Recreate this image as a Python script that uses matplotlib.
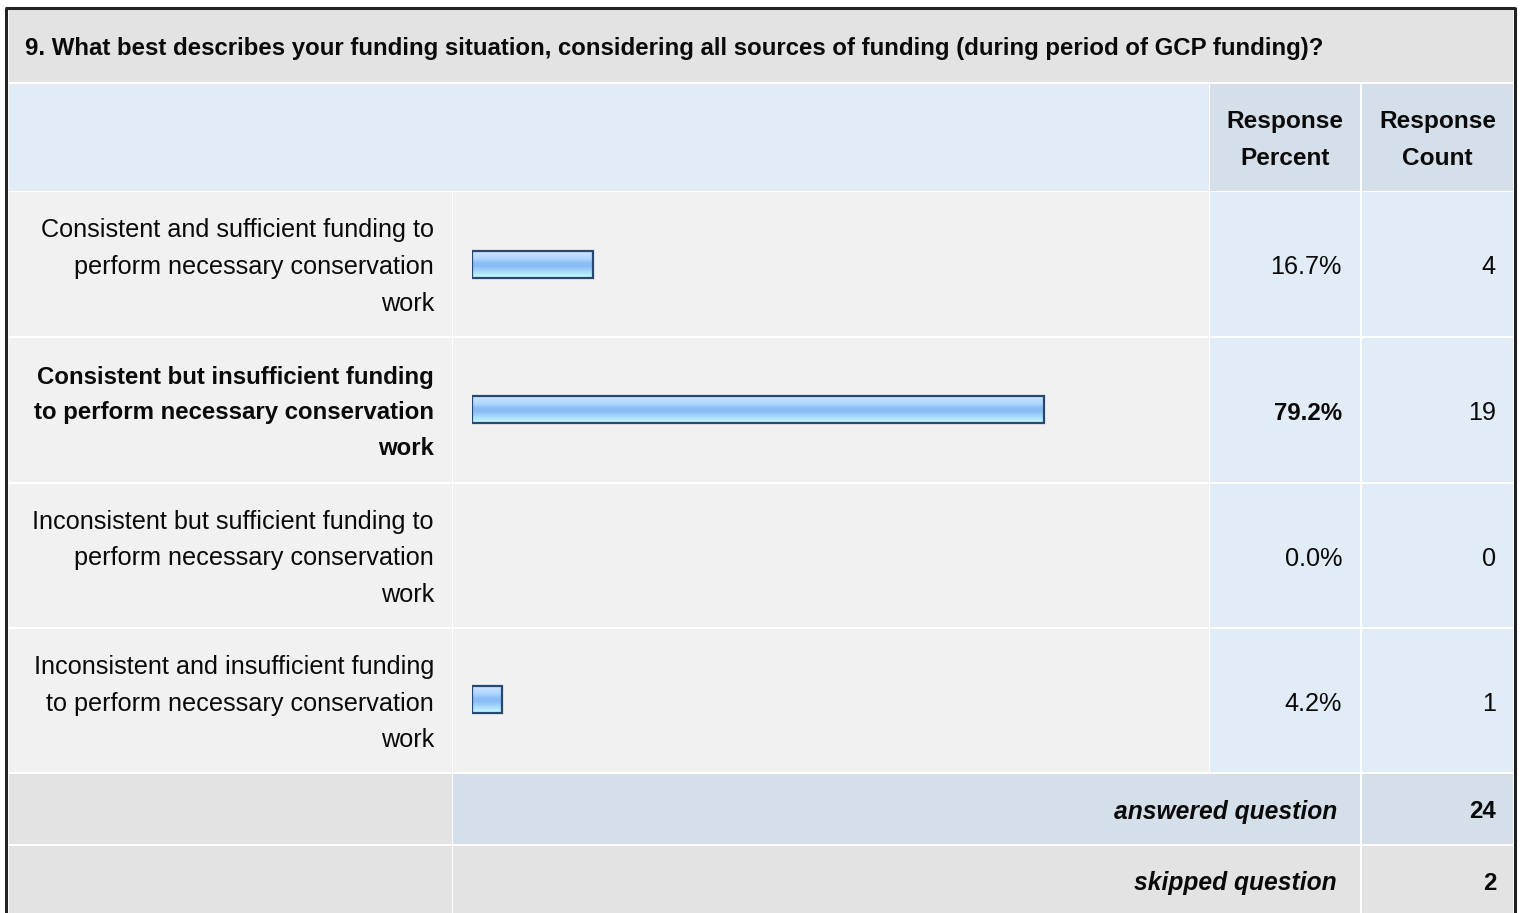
import numpy as np
import matplotlib
matplotlib.use('Agg')
import matplotlib.pyplot as plt
from matplotlib.patches import Rectangle
from matplotlib.colors import LinearSegmentedColormap

title = '9. What best describes your funding situation, considering all sources of funding (during period of GCP funding)?'
answers = ['Consistent and sufficient funding to\nperform necessary conservation\nwork',
           'Consistent but insufficient funding\nto perform necessary conservation\nwork',
           'Inconsistent but sufficient funding to\nperform necessary conservation\nwork',
           'Inconsistent and insufficient funding\nto perform necessary conservation\nwork']
percent = [16.7, 79.2, 0.0, 4.2]
count = [4, 19, 0, 1]
highlight = 1          # the row shown in bold
answered = 24
skipped = 2

W, H = 1520, 913
plt.rcParams['font.family'] = ['Liberation Sans', 'DejaVu Sans']
fig = plt.figure(figsize=(W / 100, H / 100), dpi=100)
fig.patch.set_facecolor('white')
ax = fig.add_axes([0, 0, 1, 1])
ax.set_xlim(0, W)
ax.set_ylim(H, 0)
ax.axis('off')

GRAY = '#e3e3e3'
LIGHT = '#f1f1f1'
BLUE = '#e2ecf6'
BLUE2 = '#d5dfe9'
TXT = '#0a0a0a'
FS = 18.2      # regular
FSB = 17.3     # bold

def cell(x0, x1, y0, y1, c):
    ax.add_patch(Rectangle((x0, y0), x1 - x0, y1 - y0, facecolor=c, edgecolor='none', zorder=1))

# column edges
L0, L1 = 9, 452
B0, B1 = 453, 1209
P0, P1 = 1210, 1360
C0, C1 = 1362, 1513

# title + header
cell(L0, C1, 10, 82, GRAY)
ax.text(25, 49, title, fontsize=17.3, fontweight='bold', color=TXT, va='center', ha='left', zorder=3)
cell(L0, B1, 84, 191, BLUE)
cell(P0, P1, 84, 191, BLUE2)
cell(C0, C1, 84, 191, BLUE2)
ax.text((P0 + P1) / 2, 140, 'Response\nPercent', fontsize=17.6, fontweight='bold', color=TXT,
        ha='center', va='center', linespacing=1.79, zorder=3)
ax.text((C0 + C1) / 2, 140, 'Response\nCount', fontsize=17.6, fontweight='bold', color=TXT,
        ha='center', va='center', linespacing=1.79, zorder=3)

# data rows
row_top = [192, 338, 484, 629]
row_bot = [336, 482, 627, 772]
for i in range(len(answers)):
    y0, y1 = row_top[i], row_bot[i]
    yc = (y0 + y1) / 2
    cell(L0, L1, y0, y1, LIGHT)
    cell(B0, B1, y0, y1, LIGHT)
    cell(P0, P1, y0, y1, BLUE)
    cell(C0, C1, y0, y1, BLUE)
    bold = i == highlight
    fs = FSB if bold else FS
    fw = 'bold' if bold else 'normal'
    ax.text(434, yc + 3, answers[i], fontsize=fs, fontweight=fw, color=TXT, ha='right', va='center',
            linespacing=1.72 if bold else 1.66, zorder=3)
    ax.text(1342, yc + 3.5, '%.1f%%' % percent[i], fontsize=fs, fontweight=fw, color=TXT,
            ha='right', va='center', zorder=3)
    ax.text(1496, yc + 3.5, str(count[i]), fontsize=FS, color=TXT, ha='right', va='center', zorder=3)

# footer
cell(L0, L1, 774, 844, GRAY)
cell(B0, P1, 774, 844, BLUE2)
cell(C0, C1, 774, 844, BLUE2)
cell(L0, L1, 846, H, GRAY)
cell(B0, P1, 846, H, GRAY)
cell(C0, C1, 846, H, GRAY)
ax.text(1337, 812, 'answered question', fontsize=17.7, fontweight='bold', style='italic',
        color=TXT, ha='right', va='center', zorder=3)
ax.text(1496, 812, str(answered), fontsize=FSB, fontweight='bold', color=TXT, ha='right', va='center', zorder=3)
ax.text(1337, 883, 'skipped question', fontsize=17.7, fontweight='bold', style='italic',
        color=TXT, ha='right', va='center', zorder=3)
ax.text(1496, 883, str(skipped), fontsize=FSB, fontweight='bold', color=TXT, ha='right', va='center', zorder=3)

# outer frame
ax.plot([6, 6], [H, 8], color='#222222', lw=2.2, solid_capstyle='butt', zorder=4)
ax.plot([5, 1515], [8, 8], color='#222222', lw=2.2, solid_capstyle='butt', zorder=4)
ax.plot([1515, 1515], [7, H], color='#222222', lw=2.2, solid_capstyle='butt', zorder=4)

# bars: own axes spanning the bar column, x in percent
bx0, bx1 = 472, 1193.6
bx = fig.add_axes([bx0 / W, 1 - 772 / H, (bx1 - bx0) / W, (772 - 192) / H])
bx.axis('off')
bx.patch.set_alpha(0)
grad = LinearSegmentedColormap.from_list('bar', [(0, '#cde6ff'), (0.3, '#acd4fc'), (0.42, '#8fc0f7'),
                                                (0.55, '#88baf5'), (0.75, '#a6d6fb'), (1, '#c6ffff')])
h = 27 / 145.
bars = bx.barh(range(len(percent)), percent, height=h, facecolor='none',
               edgecolor=['#284870' if v > 0 else 'none' for v in percent], linewidth=1.6, zorder=3)
img = np.linspace(0, 1, 64).reshape(-1, 1)
for i, b in enumerate(bars):
    if percent[i] <= 0:
        continue
    im = bx.imshow(img, cmap=grad, aspect='auto', extent=[0, percent[i], i + h / 2, i - h / 2],
                   zorder=2, interpolation='bilinear')
    im.set_clip_path(b)
bx.set_xlim(0, 100)
bx.set_ylim(3.5, -0.5)

fig.savefig('out.png', dpi=100)
